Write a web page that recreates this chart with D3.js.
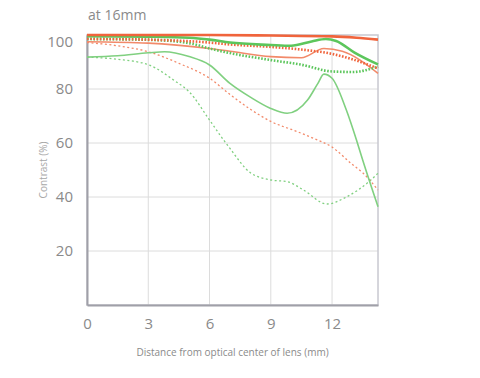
<!DOCTYPE html>
<html>
<head>
<meta charset="utf-8">
<script src="https://cdn.jsdelivr.net/npm/d3@7"></script>
<style>
  body { margin: 0; background: #fff; }
  text { font-family: "Open Sans", sans-serif; }
</style>
</head>
<body>
<div id="chart"></div>
<script>
//chart size
var width = 480;
var height = 378;
var margin = {top: 35, right: 102, bottom: 73, left: 87};

//tick labels
var xTicks = [0, 3, 6, 9, 12];
var yTicks = [20, 40, 60, 80, 100];

//series: [distance, contrast]
var redThickSolid = [[0,100],[3,100],[6,100],[9,99.8],[12,99.5],[13.2,99],[14.25,98.3]];
var greenThickSolid = [[0,99.6],[3,99.4],[5,99],[6,98.3],[7,97.2],[9,96.3],[10,96],[11,97.6],[11.7,98.5],[12.2,97.8],[13.1,93.5],[14.25,89.1]];
var redThickDot = [[0,98.6],[3,98.3],[6,97.2],[7,96.5],[9,95.6],[10.5,94.6],[12,93],[13,91],[14.25,87.6]];
var greenThickDot = [[0,98.5],[3,98.2],[5,97],[6,95],[7,93.3],[9,90.7],[10.5,89],[12,86.5],[13,86.3],[14.25,88.3]];
var redThinSolid = [[0,97.5],[3,97],[6,95],[7,94],[9,92],[10.5,91.6],[11.6,95],[12.5,94],[14.25,85.8]];
var redThinDash = [[0,97.2],[1.5,96],[3,93.8],[4.5,89.5],[6,84],[7,78],[8,72.5],[9,68],[10.3,64.2],[11,62],[12,58.5],[13,52],[13.5,49],[14.25,42.6]];
var greenThinSolid = [[0,91.8],[1.5,92.3],[3,93.4],[3.8,93.8],[5,92],[6,88.9],[7,82.1],[8,77],[9,72.8],[9.8,71],[10.8,75.9],[11.3,82],[11.6,85.5],[12,84],[12.7,72.2],[13.2,61],[13.5,53.7],[14.25,36.4]];
var greenThinDash = [[0,91.8],[1.5,91],[3,89],[4.3,83],[5,79],[6,68.5],[6.7,61],[7,58],[8,49],[9,46.3],[9.8,45.7],[10.6,42.6],[11.75,37.4],[12.7,40],[13.9,46.3],[14.25,48.8]];

var green = "#5cc65c";
var greenLight = "#80d080";
var red = "#f0643c";
var redLight = "#f28a6a";

var series = [
	{data: greenThinDash, color: greenLight, w: 1.3, dash: "2,2.5"},
	{data: redThinDash, color: redLight, w: 1.3, dash: "2,2.5"},
	{data: greenThinSolid, color: greenLight, w: 1.6, dash: null},
	{data: redThinSolid, color: redLight, w: 1.6, dash: null},
	{data: greenThickDot, color: green, w: 2.6, dash: "1.6,1.6"},
	{data: redThickDot, color: red, w: 2.6, dash: "1.6,1.6"},
	{data: greenThickSolid, color: green, w: 2.6, dash: null},
	{data: redThickSolid, color: red, w: 2.6, dash: null}
];

var innerW = width - margin.left - margin.right;
var innerH = height - margin.top - margin.bottom;

var svg = d3.select("#chart").append("svg")
	.attr("width", width)
	.attr("height", height);

var g = svg.append("g")
	.attr("transform", "translate(" + margin.left + "," + margin.top + ")");

var x = d3.scaleLinear().domain([0, 14.25]).range([0, innerW]);
var y = d3.scaleLinear().domain([0, 100]).range([innerH, 0]);

//grid lines
g.selectAll("line.vgrid")
	.data(xTicks.slice(1))
	.enter()
	.append("line")
	.attr("x1", function(d){ return x(d); })
	.attr("x2", function(d){ return x(d); })
	.attr("y1", 0)
	.attr("y2", innerH)
	.attr("stroke", "#dcdcdc")
	.attr("stroke-width", 1);

g.selectAll("line.hgrid")
	.data(yTicks.slice(0, 4))
	.enter()
	.append("line")
	.attr("x1", 0)
	.attr("x2", innerW)
	.attr("y1", function(d){ return y(d); })
	.attr("y2", function(d){ return y(d); })
	.attr("stroke", "#dcdcdc")
	.attr("stroke-width", 1);

//frame
g.append("rect")
	.attr("x", 0)
	.attr("y", 0)
	.attr("width", innerW)
	.attr("height", innerH)
	.attr("fill", "none")
	.attr("stroke", "#c8c8d0")
	.attr("stroke-width", 1.5);

//axes, drawn with d3 but restyled
var xAxis = g.append("g")
	.attr("transform", "translate(0," + innerH + ")")
	.call(d3.axisBottom(x).tickValues(xTicks).tickSize(0).tickPadding(13));
xAxis.select(".domain").attr("stroke", "#a0a0a8").attr("stroke-width", 2);

var yAxis = g.append("g")
	.call(d3.axisLeft(y).tickValues(yTicks).tickSize(0).tickPadding(14));
yAxis.select(".domain").attr("stroke", "#a0a0a8").attr("stroke-width", 2);

svg.selectAll(".tick text")
	.attr("fill", "#8a8a8a")
	.style("font-size", "15px");

//the top label sits a little lower than its gridline
yAxis.selectAll(".tick")
	.filter(function(d){ return d == 100; })
	.select("text")
	.attr("dy", "0.78em");

//curves
var line = d3.line()
	.x(function(d){ return x(d[0]); })
	.y(function(d){ return y(d[1]); })
	.curve(d3.curveMonotoneX);

g.selectAll("path.curve")
	.data(series)
	.enter()
	.append("path")
	.attr("class", "curve")
	.attr("d", function(s){ return line(s.data); })
	.attr("fill", "none")
	.attr("stroke", function(s){ return s.color; })
	.attr("stroke-width", function(s){ return s.w; })
	.attr("stroke-dasharray", function(s){ return s.dash; });

//titles
svg.append("text")
	.attr("x", 88)
	.attr("y", 20)
	.attr("fill", "#8a8a8a")
	.style("font-size", "14px")
	.text("at 16mm");

svg.append("text")
	.attr("transform", "translate(47," + (margin.top + innerH / 2) + ") rotate(-90)")
	.attr("text-anchor", "middle")
	.attr("fill", "#a8a8a8")
	.style("font-size", "10px")
	.text("Contrast (%)");

svg.append("text")
	.attr("x", margin.left + innerW / 2)
	.attr("y", 356)
	.attr("text-anchor", "middle")
	.attr("fill", "#8a8a8a")
	.style("font-size", "10px")
	.text("Distance from optical center of lens (mm)");
</script>
</body>
</html>
